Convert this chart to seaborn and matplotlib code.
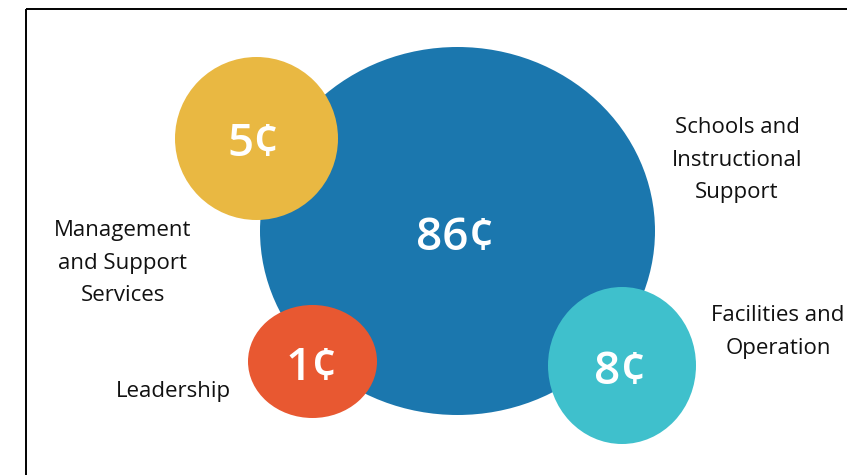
import matplotlib
matplotlib.use("Agg")
import matplotlib.pyplot as plt
from matplotlib.patches import Ellipse
import seaborn as sns

# Share of each budget dollar, in cents
categories = ["Schools and\nInstructional\nSupport", "Management\nand Support\nServices",
              "Facilities and\nOperation", "Leadership"]
cents = [86, 5, 8, 1]
colors = ["#1b77ae", "#e9b842", "#3fc0cc", "#e85831"]

# Bubble layout in pixel coordinates (center x, center y, width, height)
bubble_xy = [(457.5, 231.0), (256.5, 138.5), (622.0, 365.5), (312.5, 361.5)]
bubble_wh = [(395, 368), (163, 163), (148, 157), (129, 113)]
value_xy = [(455, 239), (254, 145), (620, 372), (312, 369)]
label_xy = [(737, 160), (123, 263), (778, 332), (173, 391)]

sns.set_theme(style="white")
plt.rcParams["font.family"] = ["Open Sans", "DejaVu Sans"]

fig = plt.figure(figsize=(8.47, 4.75), dpi=100)
ax = fig.add_axes([0, 0, 1, 1])
ax.set_xlim(0, 847)
ax.set_ylim(475, 0)
ax.axis("off")

# Frame (top and left edges visible)
ax.plot([26, 847], [9, 9], color="black", lw=1.4, solid_capstyle="butt")
ax.plot([26, 26], [9, 475], color="black", lw=1.4, solid_capstyle="butt")

# Draw the large bubble first so the smaller ones overlap it
for (cx, cy), (w, h), c in zip(bubble_xy, bubble_wh, colors):
    ax.add_patch(Ellipse((cx, cy), w, h, facecolor=c, edgecolor="none"))

for (vx, vy), v in zip(value_xy, cents):
    ax.text(vx, vy, f"{v}¢", color="white", fontsize=33, fontweight="semibold",
            ha="center", va="center")

for (lx, ly), lab in zip(label_xy, categories):
    ax.text(lx, ly, lab, color="#111111", fontsize=16, ha="center", va="center",
            multialignment="center", linespacing=1.7)

fig.savefig("out.png", dpi=100)
